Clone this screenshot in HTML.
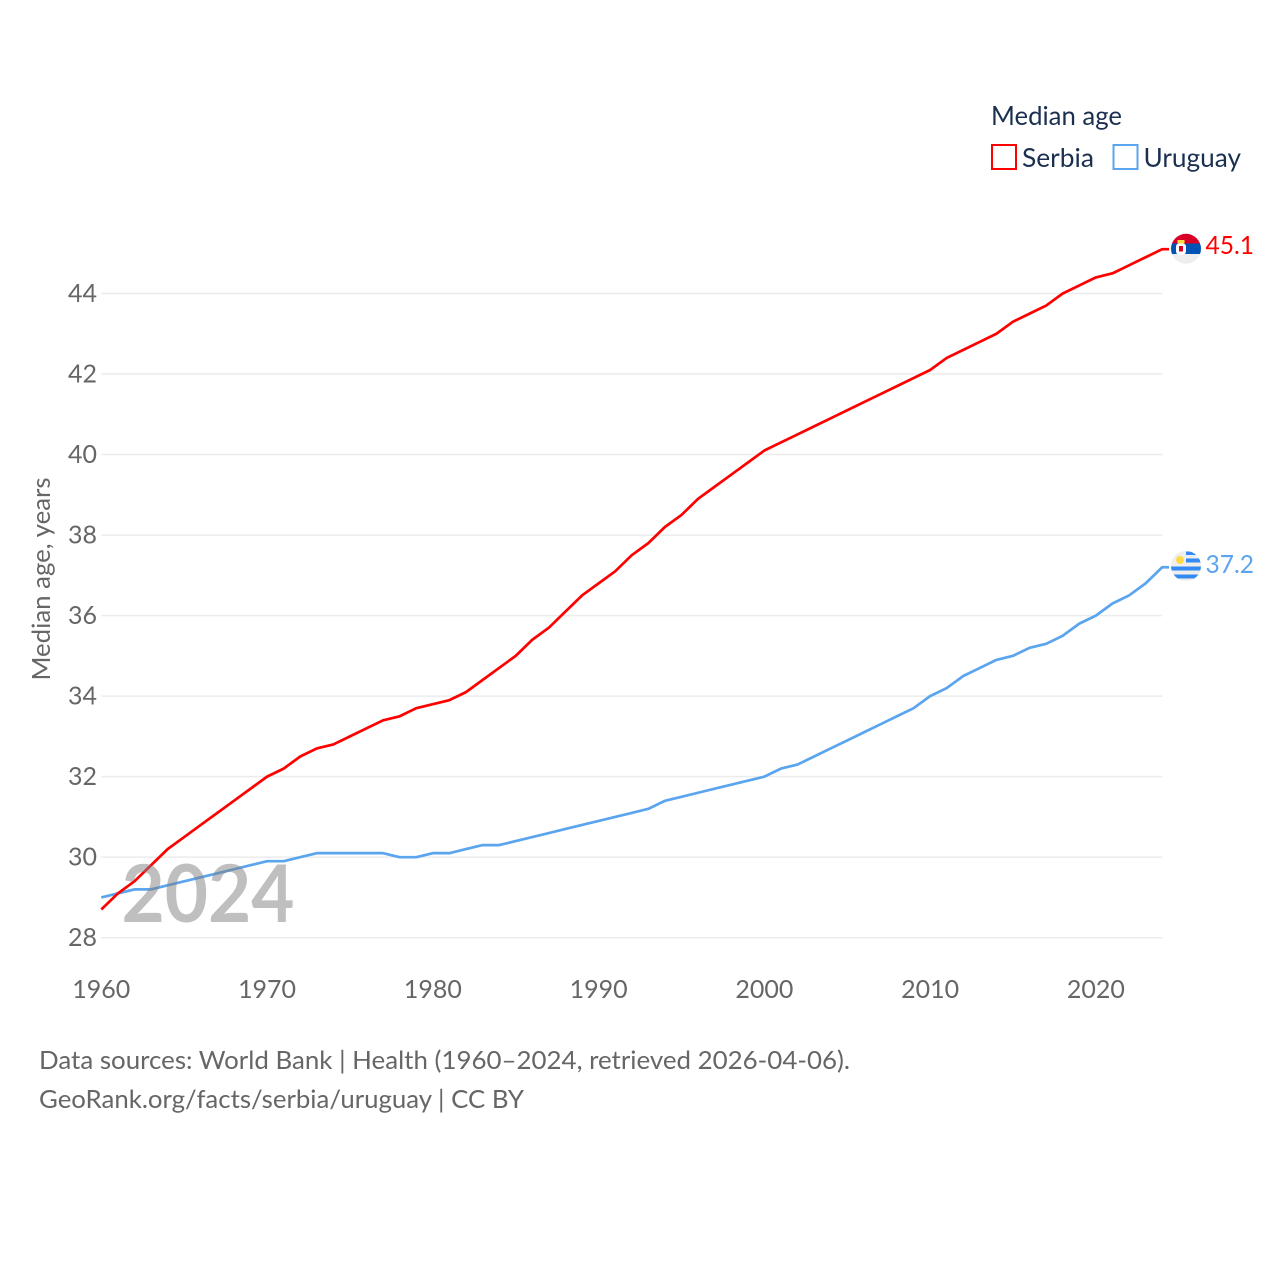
<!DOCTYPE html>
<html lang="en">
<head>
<meta charset="utf-8">
<title>Median age: Serbia and Uruguay</title>
<style>
html,body{margin:0;padding:0;background:#fff}
svg{display:block}
text{font-family:"Lato","Carlito","Liberation Sans",sans-serif}
</style>
</head>
<body>
<svg id="chart" xmlns="http://www.w3.org/2000/svg" width="1280" height="1280" viewBox="0 0 1280 1280">
  <defs>
    <clipPath id="flag-clip-serbia"><circle cx="1186" cy="248.800" r="15"/></clipPath>
    <clipPath id="flag-clip-uruguay"><circle cx="1186" cy="566" r="15"/></clipPath>
  </defs>
  <g id="grid"></g>
  <g id="y-ticks"></g>
  <g id="x-ticks"></g>
  <text transform="translate(50,579) rotate(-90)" text-anchor="middle" font-size="25.600" fill="#666" textLength="203" lengthAdjust="spacingAndGlyphs">Median age, years</text>
  <g id="series"></g>

  <g clip-path="url(#flag-clip-serbia)">
    <rect x="1171" y="233" width="30" height="10.500" fill="#d80027"/>
    <rect x="1171" y="243.500" width="30" height="10.500" fill="#0052b4"/>
    <rect x="1171" y="254" width="30" height="11" fill="#eeeeee"/>
    <rect x="1177.500" y="240" width="7" height="3.500" fill="#ffda44"/>
    <rect x="1176" y="243.500" width="10" height="11" rx="3" fill="#ffffff"/>
    <rect x="1179" y="246" width="4" height="5.500" fill="#d80027"/>
  </g>
  <g clip-path="url(#flag-clip-uruguay)">
    <rect x="1171" y="551" width="30" height="30" fill="#eeeeee"/>
    <rect x="1186" y="551.500" width="15" height="3.500" fill="#338af3"/>
    <rect x="1186" y="558.500" width="15" height="4" fill="#338af3"/>
    <rect x="1171" y="566.500" width="30" height="4" fill="#338af3"/>
    <rect x="1171" y="574.500" width="30" height="4" fill="#338af3"/>
    <circle cx="1180" cy="560" r="4" fill="#ffda44"/>
  </g>
  <text x="1205.500" y="254" font-size="25.600" fill="#ff0000" textLength="48.500" lengthAdjust="spacingAndGlyphs">45.1</text>
  <text x="1205.500" y="573" font-size="25.600" fill="#5ba4ee" textLength="48.500" lengthAdjust="spacingAndGlyphs">37.2</text>

  <text x="121.500" y="922" font-size="80" font-weight="700" fill="#808080" fill-opacity="0.5" textLength="173" lengthAdjust="spacingAndGlyphs">2024</text>

  <g>
    <text x="991" y="125" font-size="26" fill="#1b3050" textLength="131" lengthAdjust="spacingAndGlyphs">Median age</text>
    <g>
      <rect x="992" y="145" width="24" height="24" fill="#fff" stroke="#ff0000" stroke-width="2"/>
      <text x="1022" y="167" font-size="26" fill="#1b3050" textLength="72" lengthAdjust="spacingAndGlyphs">Serbia</text>
    </g>
    <g>
      <rect x="1113.500" y="145" width="24" height="24" fill="#fff" stroke="#5ba4ee" stroke-width="2"/>
      <text x="1143.500" y="167" font-size="26" fill="#1b3050" textLength="97.500" lengthAdjust="spacingAndGlyphs">Uruguay</text>
    </g>
  </g>

  <text x="39" y="1069" font-size="25.600" fill="#666" textLength="811" lengthAdjust="spacingAndGlyphs">Data sources: World Bank | Health (1960–2024, retrieved 2026-04-06).</text>
  <text x="39" y="1108" font-size="25.600" fill="#666" textLength="485" lengthAdjust="spacingAndGlyphs">GeoRank.org/facts/serbia/uruguay | CC BY</text>
</svg>
<script>
const years = [1960,1961,1962,1963,1964,1965,1966,1967,1968,1969,1970,1971,1972,1973,1974,1975,1976,1977,1978,1979,1980,1981,1982,1983,1984,1985,1986,1987,1988,1989,1990,1991,1992,1993,1994,1995,1996,1997,1998,1999,2000,2001,2002,2003,2004,2005,2006,2007,2008,2009,2010,2011,2012,2013,2014,2015,2016,2017,2018,2019,2020,2021,2022,2023,2024];
const serbiaValues = [28.7,29.1,29.4,29.8,30.2,30.5,30.8,31.1,31.4,31.7,32.0,32.2,32.5,32.7,32.8,33.0,33.2,33.4,33.5,33.7,33.8,33.9,34.1,34.4,34.7,35.0,35.4,35.7,36.1,36.5,36.8,37.1,37.5,37.8,38.2,38.5,38.9,39.2,39.5,39.8,40.1,40.3,40.5,40.7,40.9,41.1,41.3,41.5,41.7,41.9,42.1,42.4,42.6,42.8,43.0,43.3,43.5,43.7,44.0,44.2,44.4,44.5,44.7,44.9,45.1];
const uruguayValues = [29.0,29.1,29.2,29.2,29.3,29.4,29.5,29.6,29.7,29.8,29.9,29.9,30.0,30.1,30.1,30.1,30.1,30.1,30.0,30.0,30.1,30.1,30.2,30.3,30.3,30.4,30.5,30.6,30.7,30.8,30.9,31.0,31.1,31.2,31.4,31.5,31.6,31.7,31.8,31.9,32.0,32.2,32.3,32.5,32.7,32.9,33.1,33.3,33.5,33.7,34.0,34.2,34.5,34.7,34.9,35.0,35.2,35.3,35.5,35.8,36.0,36.3,36.5,36.8,37.2];
const yTickValues = [28,30,32,34,36,38,40,42,44];
const xTickValues = [1960,1970,1980,1990,2000,2010,2020];

const NS = 'http://www.w3.org/2000/svg';
const xScale = function (year) { return 101.3 + (year - 1960) * (1162.2 - 101.3) / 64; };
const yScale = function (value) { return 937.7 - (value - 28) * (937.7 - 293.5) / 16; };

const gridGroup = document.getElementById('grid');
const yTickGroup = document.getElementById('y-ticks');
const xTickGroup = document.getElementById('x-ticks');
const seriesGroup = document.getElementById('series');

yTickValues.forEach(function (tick) {
  const line = document.createElementNS(NS, 'line');
  
  
  line.setAttribute('x1', xScale(1960));
  line.setAttribute('x2', xScale(2024));
  line.setAttribute('y1', yScale(tick));
  line.setAttribute('y2', yScale(tick));
  line.setAttribute('stroke', '#ececec');
  line.setAttribute('stroke-width', '1.5');
  gridGroup.appendChild(line);

  const label = document.createElementNS(NS, 'text');
  
  
  label.setAttribute('x', 97);
  label.setAttribute('y', yScale(tick) + 8.3);
  label.setAttribute('text-anchor', 'end');
  label.setAttribute('font-size', '25.6');
  label.setAttribute('fill', '#666');
  label.setAttribute('textLength', '29');
  label.setAttribute('lengthAdjust', 'spacingAndGlyphs');
  label.textContent = tick;
  yTickGroup.appendChild(label);
});

xTickValues.forEach(function (tick) {
  const label = document.createElementNS(NS, 'text');
  
  
  label.setAttribute('x', xScale(tick));
  label.setAttribute('y', 998);
  label.setAttribute('text-anchor', 'middle');
  label.setAttribute('font-size', '25.6');
  label.setAttribute('fill', '#666');
  label.setAttribute('textLength', '58');
  label.setAttribute('lengthAdjust', 'spacingAndGlyphs');
  label.textContent = tick;
  xTickGroup.appendChild(label);
});

function drawSeries(name, values, color) {
  const points = values.map(function (value, i) {
    return xScale(years[i]).toFixed(2) + ',' + yScale(value).toFixed(2);
  });
  const lastValue = values[values.length - 1];
  points.push('1169,' + yScale(lastValue).toFixed(2));
  const line = document.createElementNS(NS, 'polyline');
  
  
  line.setAttribute('points', points.join(' '));
  line.setAttribute('fill', 'none');
  line.setAttribute('stroke', color);
  line.setAttribute('stroke-width', '2.7');
  line.setAttribute('stroke-linejoin', 'round');
  seriesGroup.appendChild(line);
}

drawSeries('uruguay', uruguayValues, '#5ba4ee');
drawSeries('serbia', serbiaValues, '#ff0000');
</script>
</body>
</html>
